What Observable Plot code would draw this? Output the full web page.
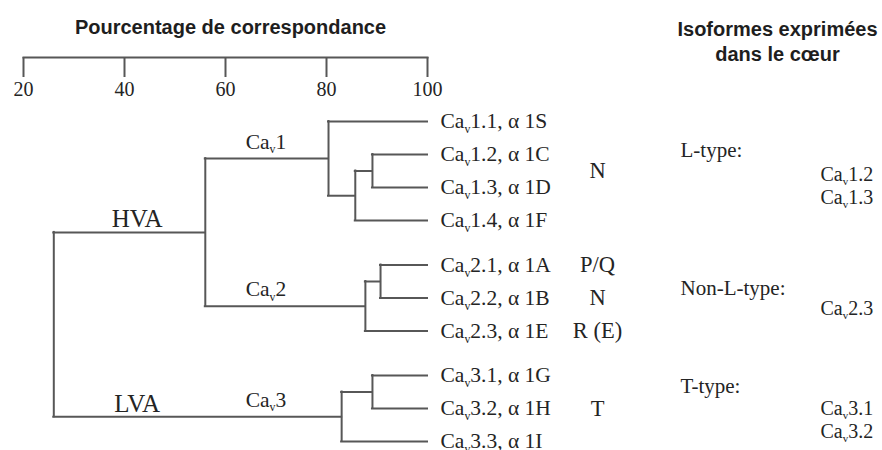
<!DOCTYPE html>
<html>
<head>
<meta charset="utf-8">
<script src="https://cdn.jsdelivr.net/npm/d3@7"></script>
<script src="https://cdn.jsdelivr.net/npm/@observablehq/plot@0.6"></script>
<style>
  html, body { margin: 0; padding: 0; background: #fff; }
  #chart svg { display: block; }
</style>
</head>
<body>
<div id="chart"></div>
<script>
// ---------------- data ----------------
const xTicks = [20, 40, 60, 80, 100];

// internal nodes of the dendrogram (percentage of match at each junction)
const nodeIds     = ["root", "HVA",  "Ca1",  "Ca1b", "Ca1c", "Ca2",  "Ca2b", "Ca3",  "Ca3b"];
const nodeParents = [null,   "root", "HVA",  "Ca1",  "Ca1b", "HVA",  "Ca2",  "root", "Ca3"];
const nodeMatch   = [26,     56,     80.4,   85.7,   89.1,   87.7,   90.7,   83,     89.1];

// leaves (isoforms)
const leafLabels  = ["Caᵥ1.1, α 1S", "Caᵥ1.2, α 1C", "Caᵥ1.3, α 1D", "Caᵥ1.4, α 1F",
                     "Caᵥ2.1, α 1A", "Caᵥ2.2, α 1B", "Caᵥ2.3, α 1E",
                     "Caᵥ3.1, α 1G", "Caᵥ3.2, α 1H", "Caᵥ3.3, α 1I"];
const leafParents = ["Ca1", "Ca1c", "Ca1c", "Ca1b", "Ca2b", "Ca2b", "Ca2", "Ca3b", "Ca3b", "Ca3"];
const leafMatch   = [100, 100, 100, 100, 100, 100, 100, 100, 100, 100];
const leafRows    = [0, 1, 2, 3, 4.35, 5.35, 6.35, 7.7, 8.7, 9.7];

// branch labels
const branchLabels = ["HVA", "Caᵥ1", "Caᵥ2", "LVA", "Caᵥ3"];
const branchNodes  = ["HVA", "Ca1",   "Ca2",   "Ca3", "Ca3"];
const branchAt     = [42.5,  68,      68,      42.5,  68];
const branchBig    = [true,  false,   false,   true,  false];

// current types
const currentTypes      = ["N", "P/Q", "N", "R (E)", "T"];
const currentTypeLeaves = [[0, 1, 2, 3], [4], [5], [6], [7, 8, 9]];

// isoforms expressed in the heart
const heartHeader   = "Isoformes exprimées\ndans le cœur";
const heartTypes    = ["L-type:", "Non-L-type:", "T-type:"];
const heartIsoforms = [["Caᵥ1.2", "Caᵥ1.3"], ["Caᵥ2.3"], ["Caᵥ3.1", "Caᵥ3.2"]];

const axisTitle = "Pourcentage de correspondance";

// ---------------- layout ----------------
const W = 882, H = 450;
const MT = 57, ML = 23, MR = 455, MB = 0;
const LINE = "#575757", TEXT = "#242424";
const SERIF = "'Liberation Serif', 'Times New Roman', serif";
const SANS = "'Liberation Sans', Arial, sans-serif";
const rightHeadPos = [[680, 150], [680, 288], [680, 386]];
const rightIsoPos  = [[174, 197], [308], [408, 431]];
const rightIsoX = 820;

// ---------------- tree geometry ----------------
const matchOf = new Map(), parentOf = new Map(), children = new Map(), rowOf = new Map();
nodeIds.forEach((id, i) => { matchOf.set(id, nodeMatch[i]); parentOf.set(id, nodeParents[i]); });
leafLabels.forEach((lab, i) => {
  const id = "L" + i;
  matchOf.set(id, leafMatch[i]); parentOf.set(id, leafParents[i]); rowOf.set(id, leafRows[i]);
});
for (const [id, p] of parentOf) if (p) { if (!children.has(p)) children.set(p, []); children.get(p).push(id); }
function row(id) {
  if (rowOf.has(id)) return rowOf.get(id);
  const rs = children.get(id).map(row);
  const r = (d3.min(rs) + d3.max(rs)) / 2;
  rowOf.set(id, r);
  return r;
}
row("root");

const horiz = [], vert = [];
for (const [id, p] of parentOf) {
  if (p) horiz.push({x1: matchOf.get(p), x2: matchOf.get(id), y: row(id)});
}
for (const [id, ch] of children) {
  const rs = ch.map(row);
  vert.push({x: matchOf.get(id), y1: d3.min(rs), y2: d3.max(rs)});
}

const leaves = leafLabels.map((label, i) => ({label, row: leafRows[i], match: leafMatch[i]}));
const branches = branchLabels.map((label, i) => ({label, x: branchAt[i], y: row(branchNodes[i]), big: branchBig[i]}));
const types = currentTypes.map((label, i) => ({label, y: d3.mean(currentTypeLeaves[i], j => leafRows[j])}));

const rightMarks = [];
heartTypes.forEach((t, i) => {
  rightMarks.push(Plot.text([t], {frameAnchor: "top-left", dx: rightHeadPos[i][0] - ML, dy: rightHeadPos[i][1] - MT,
    textAnchor: "start", lineAnchor: "middle", fontSize: 21, fill: TEXT}));
  heartIsoforms[i].forEach((iso, j) => {
    rightMarks.push(Plot.text([iso], {frameAnchor: "top-left", dx: rightIsoX - ML, dy: rightIsoPos[i][j] - MT,
      textAnchor: "start", lineAnchor: "middle", fontSize: 20, fill: TEXT}));
  });
});

const chart = Plot.plot({
  width: W, height: H,
  marginTop: MT, marginLeft: ML, marginRight: MR, marginBottom: MB,
  style: {fontFamily: SERIF, fontSize: "20px", color: TEXT, background: "#fff", overflow: "visible"},
  x: {domain: [20, 100], axis: null},
  y: {domain: [0, 9.7], range: [121, 441], axis: null},
  marks: [
    // axis
    Plot.frame({anchor: "top", stroke: LINE, strokeWidth: 2}),
    Plot.tickX(xTicks, {x: d => d, stroke: LINE, strokeWidth: 2, insetBottom: (H - MT - MB) - 20}),
    Plot.text(xTicks, {x: d => d, text: d => `${d}`, frameAnchor: "top", lineAnchor: "middle", dy: 32, fontSize: 20, fill: TEXT}),
    Plot.text([axisTitle], {frameAnchor: "top", lineAnchor: "middle", dx: 5, dy: -30,
      fontFamily: SANS, fontWeight: "bold", fontSize: 20, fill: "#1e1e1e"}),
    // dendrogram
    Plot.ruleY(horiz, {y: "y", x1: "x1", x2: "x2", stroke: LINE, strokeWidth: 2, strokeLinecap: "square"}),
    Plot.ruleX(vert, {x: "x", y1: "y1", y2: "y2", stroke: LINE, strokeWidth: 2, strokeLinecap: "square"}),
    // leaf labels
    Plot.text(leaves, {x: "match", y: "row", text: "label", dx: 13, textAnchor: "start", fontSize: 21.5, fill: TEXT}),
    // branch labels
    Plot.text(branches.filter(d => d.big), {x: "x", y: "y", text: "label", lineAnchor: "bottom", dy: -5, fontSize: 25, fill: TEXT}),
    Plot.text(branches.filter(d => !d.big), {x: "x", y: "y", text: "label", lineAnchor: "bottom", dy: -10, fontSize: 21.5, fill: TEXT}),
    // current types
    Plot.text(types, {x: () => 100, y: "y", text: "label", dx: 170, fontSize: 22.5, fill: TEXT}),
    // right column
    Plot.text([heartHeader], {frameAnchor: "top-left", dx: 777 - ML, dy: 40 - MT, lineHeight: 1.25,
      textAnchor: "middle", lineAnchor: "middle",
      fontFamily: SANS, fontWeight: "bold", fontSize: 20, fill: "#1e1e1e"}),
    ...rightMarks
  ]
});

document.getElementById("chart").appendChild(chart);

// subscript "v" in Caᵥ labels
const NS = "http://www.w3.org/2000/svg";
for (const t of chart.querySelectorAll("text")) {
  if (t.children.length || !t.textContent.includes("ᵥ")) continue;
  const fs = parseFloat(getComputedStyle(t).fontSize);
  const parts = t.textContent.split("ᵥ");
  t.textContent = "";
  parts.forEach((p, i) => {
    if (i === 0) { t.appendChild(document.createTextNode(p)); return; }
    const sub = document.createElementNS(NS, "tspan");
    sub.setAttribute("font-size", (fs * 0.55).toFixed(1));
    sub.setAttribute("dy", (fs * 0.22).toFixed(1));
    sub.textContent = "v";
    t.appendChild(sub);
    const rest = document.createElementNS(NS, "tspan");
    rest.setAttribute("dy", (-fs * 0.22).toFixed(1));
    rest.textContent = p;
    t.appendChild(rest);
  });
}
</script>
</body>
</html>
